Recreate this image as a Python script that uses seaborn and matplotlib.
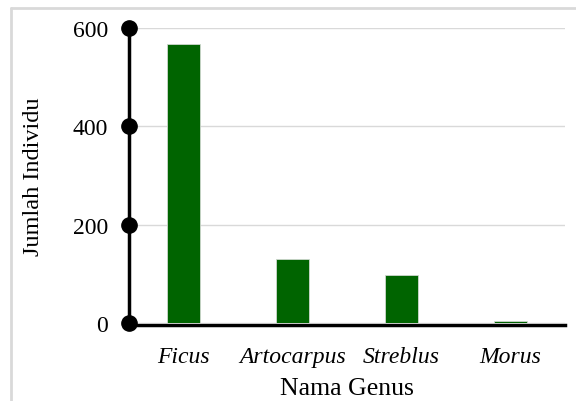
import numpy as np
import pandas as pd
import matplotlib
matplotlib.use('Agg')
import matplotlib.pyplot as plt
from matplotlib.lines import Line2D
import seaborn as sns

genus = ['Ficus', 'Artocarpus', 'Streblus', 'Morus']
jumlah = [567, 130, 98, 5]
y_ticks = [0, 200, 400, 600]

df = pd.DataFrame({'Genus': genus, 'Jumlah': jumlah})

sns.set_style('white')
plt.rcParams['font.family'] = ['Liberation Serif', 'DejaVu Serif']
plt.rcParams['text.color'] = 'black'
plt.rcParams['axes.labelcolor'] = 'black'
plt.rcParams['xtick.color'] = 'black'
plt.rcParams['ytick.color'] = 'black'

fig = plt.figure(figsize=(5.76, 4.02), dpi=100)
ax = fig.add_axes([0.224, 0.194, 0.757, 0.734])

sns.barplot(data=df, x='Genus', y='Jumlah', color='#006400', width=0.31,
            saturation=1, edgecolor='#cfd8cf', linewidth=0.6, ax=ax, zorder=3)

ax.set_ylim(0, 600)
ax.set_xlim(-0.5, 3.5)
ax.set_yticks(y_ticks)
ax.yaxis.grid(True, color='#d9d9d9', linewidth=1)
ax.set_axisbelow(True)

for s in ['top', 'right']:
    ax.spines[s].set_visible(False)
for s in ['left', 'bottom']:
    ax.spines[s].set_color('black')
    ax.spines[s].set_linewidth(2.5)
    ax.spines[s].set_zorder(4)
ax.spines['bottom'].set_position(('outward', 1.5))

# round dots on the y-axis ticks
ax.plot([-0.5] * len(y_ticks), y_ticks, 'o', color='black', markersize=11,
        clip_on=False, zorder=5)

ax.tick_params(axis='both', length=0, labelsize=17)
ax.tick_params(axis='y', pad=15)
ax.tick_params(axis='x', pad=15)
for lbl in ax.get_xticklabels():
    lbl.set_fontstyle('italic')

ax.set_xlabel('Nama Genus', fontsize=18.5, labelpad=7)
ax.set_ylabel('Jumlah Individu', fontsize=17.5, labelpad=21)

# light frame on the top and left edges
fig.add_artist(Line2D([10.5 / 576, 1], [1 - 8.5 / 402] * 2, color='#d9d9d9', lw=2))
fig.add_artist(Line2D([10.5 / 576] * 2, [0, 1 - 8.5 / 402], color='#d9d9d9', lw=2))

fig.savefig('out.png', dpi=100)
